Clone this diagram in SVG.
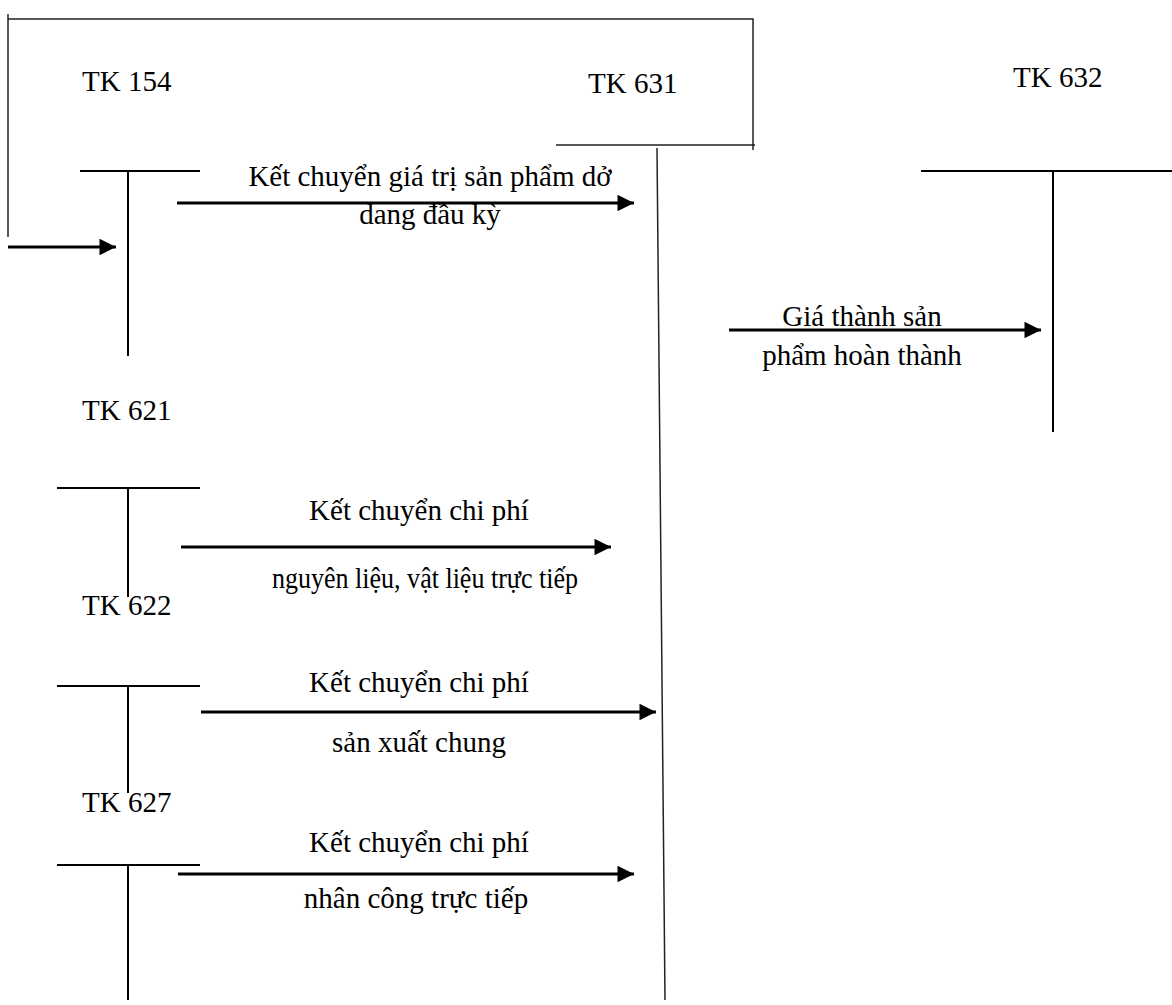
<svg xmlns="http://www.w3.org/2000/svg" width="1172" height="1005" viewBox="0 0 1172 1005">
  <style>
    text { font-family: "Liberation Serif", "Times New Roman", serif; font-size: 29px; fill: #000; }
    .mid { text-anchor: middle; }
    .t { stroke: #000; stroke-width: 2; fill: none; }
    .thin { stroke: #222; stroke-width: 1.5; fill: none; }
    .arrow { stroke: #000; stroke-width: 3; fill: none; marker-end: url(#head); }
  </style>
  <defs>
    <marker id="head" viewBox="0 0 10 10" refX="10" refY="5" markerWidth="6" markerHeight="5.5" orient="auto" markerUnits="strokeWidth">
      <path d="M0,0 L10,5 L0,10 Z" fill="#000"/>
    </marker>
  </defs>

  <rect width="1172" height="1005" fill="#fff"/>

  <!-- T-accounts -->
  <g id="tk154">
    <text x="82" y="91">TK 154</text>
    <path class="t" d="M80,171 H200 M128,171 V356"/>
  </g>
  <g id="tk631">
    <text x="588" y="93">TK 631</text>
    <path class="thin" d="M556,145 H755 M657,148 L665,1000"/>
  </g>
  <g id="tk632">
    <text x="1013" y="87">TK 632</text>
    <path class="t" d="M921,171 H1172 M1053,171 V432"/>
  </g>
  <g id="tk621">
    <text x="82" y="420">TK 621</text>
    <path class="t" d="M57,488 H200 M128,488 V597"/>
  </g>
  <g id="tk622">
    <text x="82" y="615">TK 622</text>
    <path class="t" d="M57,686 H200 M128,686 V793"/>
  </g>
  <g id="tk627">
    <text x="82" y="812">TK 627</text>
    <path class="t" d="M57,865 H200 M128,865 V1000"/>
  </g>

  <!-- connectors -->
  <g id="connectors">
    <path class="thin" d="M8,14 V237 M8,19 H753 V150"/>
    <path class="arrow" d="M8,247 H116"/>
    <path class="arrow" d="M177,203 H634"/>
    <path class="arrow" d="M729,330 H1041"/>
    <path class="arrow" d="M181,547 H611"/>
    <path class="arrow" d="M201,712 H656"/>
    <path class="arrow" d="M178,874 H634"/>
  </g>

  <!-- connector labels -->
  <g id="labels">
    <text class="mid" x="430" y="186">Kết chuyển giá trị sản phẩm dở</text>
    <text class="mid" x="430" y="224">dang đầu kỳ</text>
    <text class="mid" x="862" y="326">Giá thành sản</text>
    <text class="mid" x="862" y="365">phẩm hoàn thành</text>
    <text class="mid" x="419" y="520">Kết chuyển chi phí</text>
    <text class="mid" x="425" y="588" textLength="306" lengthAdjust="spacingAndGlyphs">nguyên liệu, vật liệu trực tiếp</text>
    <text class="mid" x="419" y="692">Kết chuyển chi phí</text>
    <text class="mid" x="419" y="752">sản xuất chung</text>
    <text class="mid" x="419" y="852">Kết chuyển chi phí</text>
    <text class="mid" x="416" y="908">nhân công trực tiếp</text>
  </g>
</svg>
